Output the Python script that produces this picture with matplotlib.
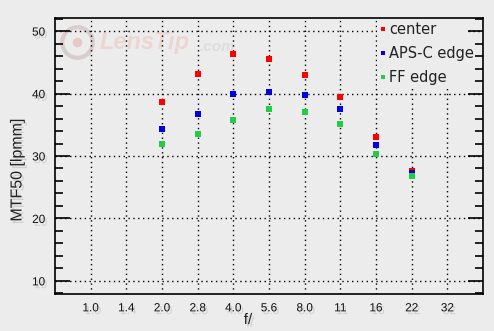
import matplotlib
matplotlib.use("Agg")
import matplotlib.pyplot as plt
import matplotlib.patheffects as pe
from matplotlib.patches import Rectangle
from matplotlib.ticker import MultipleLocator

# f-stops shown on the x axis (categorical positions)
f_stops = ["1.0", "1.4", "2.0", "2.8", "4.0", "5.6", "8.0", "11", "16", "22", "32"]

# measured apertures and MTF50 values [lpmm]
measured = ["2.0", "2.8", "4.0", "5.6", "8.0", "11", "16", "22"]
center = [38.6, 43.1, 46.4, 45.5, 42.9, 39.5, 33.1, 27.6]
apsc_edge = [34.3, 36.7, 39.9, 40.3, 39.7, 37.5, 31.7, 27.3]
ff_edge = [31.9, 33.5, 35.7, 37.5, 37.0, 35.2, 30.4, 26.8]

BG = "#ececec"
shadow = [pe.SimplePatchShadow(offset=(1.5, -2), shadow_rgbFace="#9a9a9a", alpha=0.35), pe.Normal()]

fig = plt.figure(figsize=(4.94, 3.31), dpi=100, facecolor=BG)
ax = fig.add_axes([55 / 494, 37 / 331, 428 / 494, 276 / 331], facecolor=BG)

# faint LensTip watermark
ax.plot([0.051], [0.913], marker="o", markersize=22, markerfacecolor="none",
        markeredgecolor="#d9cccc", markeredgewidth=3, transform=ax.transAxes, zorder=0)
ax.plot([0.051], [0.913], marker="o", markersize=7, markerfacecolor="#ecc8c4",
        markeredgewidth=0, transform=ax.transAxes, zorder=0)
ax.text(0.105, 0.913, "LensTip", transform=ax.transAxes, fontsize=17, fontweight="bold",
        style="italic", family="Liberation Sans", color="#ecd6d2", va="center", zorder=0)
ax.text(0.339, 0.895, ".com", transform=ax.transAxes, fontsize=11, fontweight="bold",
        style="italic", family="Liberation Sans", color="#dddddd", va="center", zorder=0)

xpos = [f_stops.index(f) for f in measured]
for vals, col, lab in [(center, "#ff0000", "center"),
                       (apsc_edge, "#0000e0", "APS-C edge"),
                       (ff_edge, "#22cc44", "FF edge")]:
    ax.plot(xpos, vals, linestyle="none", marker="s", markersize=3.8,
            color=col, markeredgewidth=0, label=lab, zorder=3)

ax.set_xlim(-1, 11)
ax.set_ylim(7.9, 52.1)
ax.set_xticks(range(len(f_stops)))
ax.set_xticklabels(f_stops)
ax.yaxis.set_major_locator(MultipleLocator(10))
ax.yaxis.set_minor_locator(MultipleLocator(2))

ax.grid(True, which="major", color="black", linestyle=(0, (1, 2.5)), linewidth=1)
ax.tick_params(axis="x", length=0, pad=6, labelsize=8.5)
ax.tick_params(axis="y", which="major", direction="in", length=11, width=1.2,
               right=True, pad=7, labelsize=8.5)
ax.tick_params(axis="y", which="minor", direction="in", length=6, width=1.2, right=True)
for lbl in ax.get_xticklabels() + ax.get_yticklabels():
    lbl.set_fontfamily("Liberation Sans")
    lbl.set_color("#111111")
    lbl.set_path_effects(shadow)
for s in ax.spines.values():
    s.set_linewidth(1.2)

fig.text(17 / 494, 1 - 170 / 331, "MTF50 [lpmm]", rotation=90, ha="center", va="center",
         fontsize=11.5, family="Liberation Sans", color="#222222", path_effects=shadow)
fig.text(248 / 494, 1 - 320 / 331, "f/", ha="center", va="center",
         fontsize=11, family="Liberation Sans", color="#222222", path_effects=shadow)

# plain background patch behind the legend hides the grid there
ax.add_patch(Rectangle((0.752, 0.743), 0.208, 0.257, transform=ax.transAxes,
                       facecolor=BG, edgecolor="none", zorder=2))
leg = ax.legend(loc="upper left", bbox_to_anchor=(0.732, 1.029), frameon=False,
                handlelength=0.4, handletextpad=0.25, labelspacing=0.62, borderpad=0.3,
                markerscale=0.85, fontsize=10.5)
for t in leg.get_texts():
    t.set_color("#222222")

fig.savefig("out.png", dpi=100, facecolor=BG)
